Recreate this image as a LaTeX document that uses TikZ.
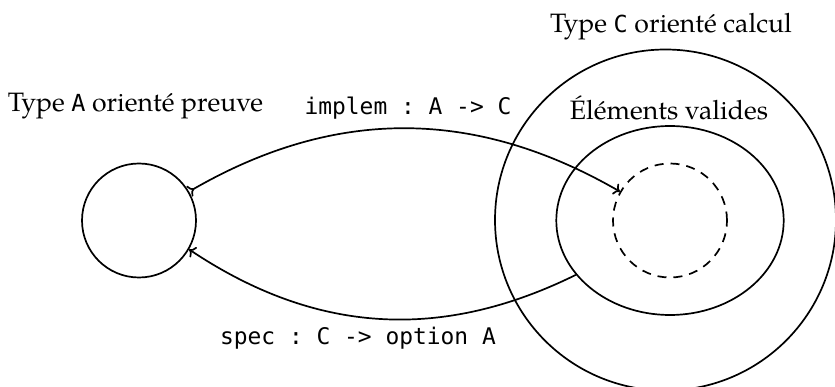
\documentclass[tikz,border=0pt]{standalone}
\usepackage{fontspec}
\setmainfont{TeX Gyre Pagella}
\setmonofont{DejaVu Sans Mono}
\usetikzlibrary{shapes.geometric,arrows.meta}
\newcommand{\mytt}[1]{{\fontsize{23.5}{27}\selectfont\ttfamily #1}}
\tikzset{
  set/.style={draw, line width=1.7pt, inner sep=0pt},
  lbl/.style={inner sep=0pt, font=\fontsize{26.6}{30}\selectfont},
  code/.style={inner sep=0pt, font=\fontsize{22.9}{27}\selectfont\ttfamily},
  conn/.style={line width=1.7pt, >={To[scale=1.1]}},
}
\begin{document}
\begin{tikzpicture}[x=1pt,y=-1pt]
\useasboundingbox (0,0) rectangle (835,387);
\node[set, circle, minimum size=114pt] (A) at (139,220.5) {};
\node[set, circle, minimum size=341pt] (C) at (665.5,220) {};
\node[set, ellipse, minimum width=227.4pt, minimum height=189pt] (E) at (670,220.5) {};
\node[set, circle, minimum size=114pt, dash pattern=on 9pt off 7pt] (D) at (670,220.5) {};
\node[lbl] (tA) at (135.5,106) {Type \mytt{A} orienté preuve};
\node[lbl] (tC) at (671,27) {Type \mytt{C} orienté calcul};
\node[lbl] (tE) at (669,108) {Éléments valides};
\node[code] (impl) at (408,108) {implem : A -> C};
\node[code] (spec) at (358,338) {spec : C -> option A};
\draw[conn, >->] (A) to[bend left=30] (D);
\draw[conn, ->] (E) to[bend left=30] (A);
\end{tikzpicture}
\end{document}
